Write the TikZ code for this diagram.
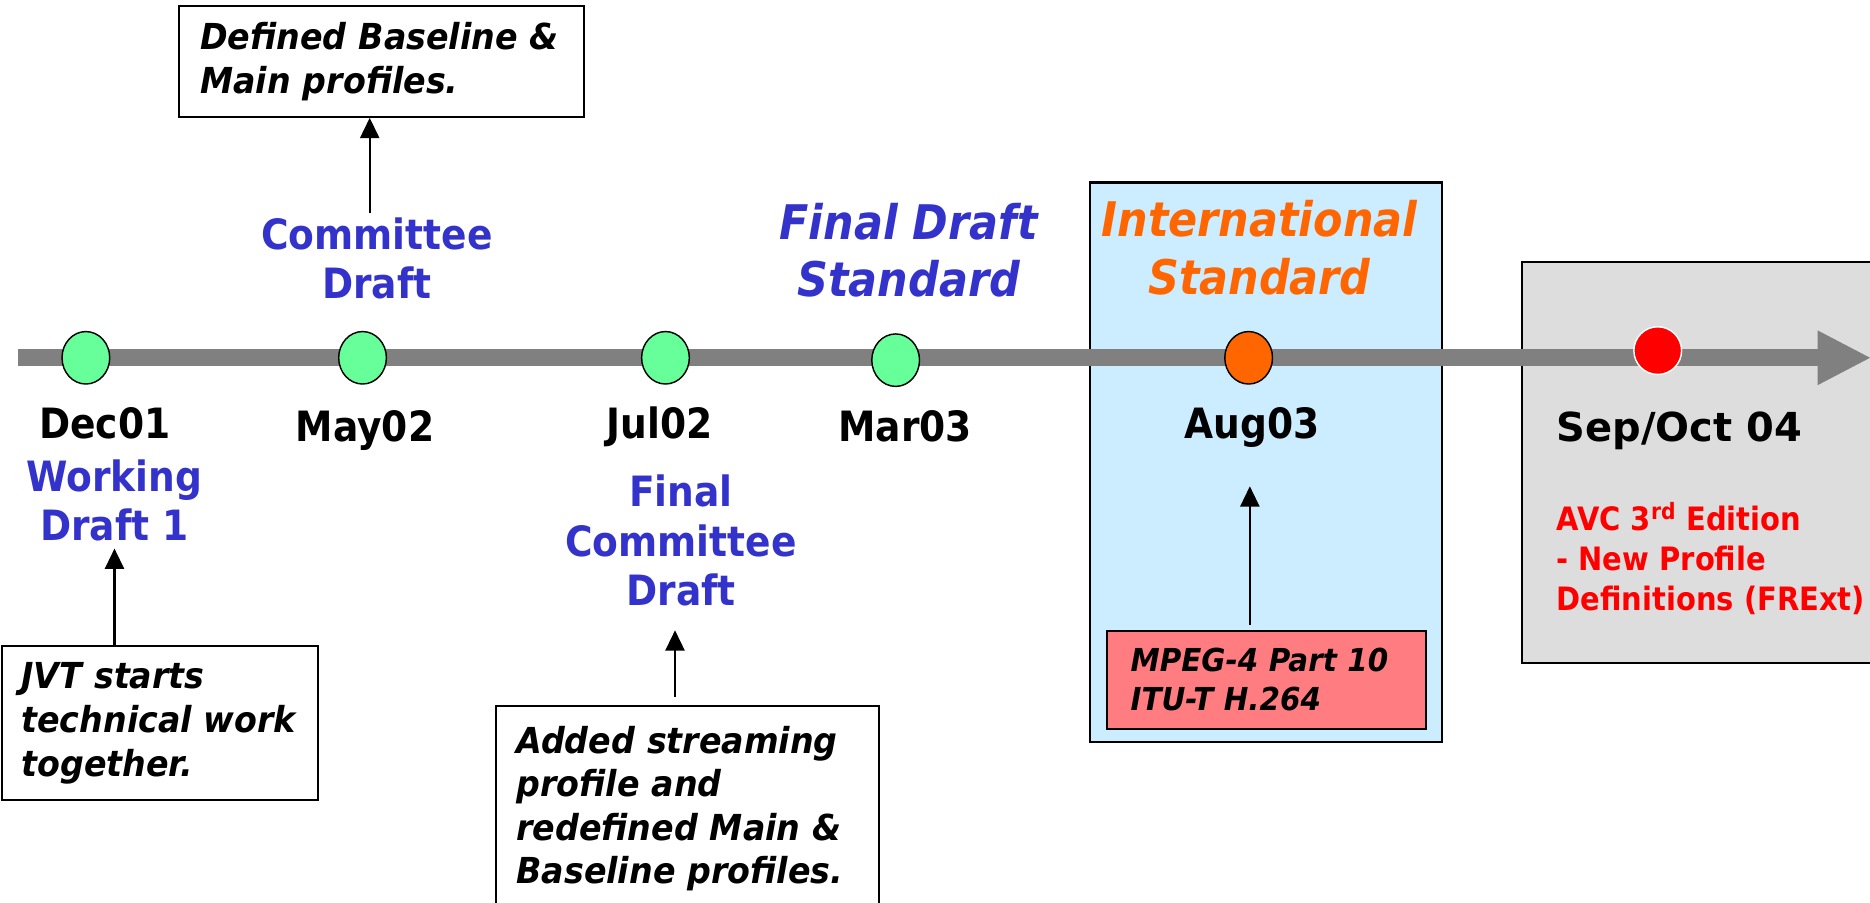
\documentclass[tikz,border=0pt]{standalone}
\usepackage{fontspec}
\setmainfont{DejaVu Sans}
\newfontfamily\slimfont[FakeStretch=0.9]{DejaVu Sans}
\newfontfamily\noteface[FakeStretch=0.93]{DejaVu Sans}
\usetikzlibrary{arrows.meta,shapes.geometric}

\definecolor{phaseblue}{RGB}{51,51,204}
\definecolor{isorange}{RGB}{255,102,0}
\definecolor{dotgreen}{RGB}{102,255,153}
\definecolor{bargrey}{RGB}{128,128,128}
\definecolor{isfill}{RGB}{204,236,255}
\definecolor{mpegfill}{RGB}{255,124,128}
\definecolor{frextfill}{RGB}{221,221,221}
\definecolor{frextred}{RGB}{255,0,0}

\tikzset{
  milestone/.style={ellipse, draw=black, line width=1.2pt, fill=dotgreen,
    minimum width=40pt, minimum height=44pt, inner sep=0pt},
  datelabel/.style={anchor=base, inner sep=0pt,
    font=\slimfont\bfseries\fontsize{35}{42}\selectfont},
  phaselabel/.style={anchor=north, inner sep=0pt, align=center, text=phaseblue,
    font=\slimfont\bfseries\fontsize{35}{41.5}\selectfont},
  stagelabel/.style={anchor=north, inner sep=0pt, align=center,
    font=\slimfont\bfseries\itshape\fontsize{40}{48}\selectfont},
  notebox/.style={draw=black, line width=1.6pt, align=left, inner ysep=0pt,
    font=\noteface\bfseries\itshape\fontsize{30}{36.5}\selectfont},
  uparrow/.style={line width=1.7pt, -{Triangle[length=17pt,width=16pt]}},
}

\begin{document}
\begin{tikzpicture}[x=1pt,y=-1pt]
\useasboundingbox (0,0) rectangle (1568,757);
\begin{scope}
\clip (0,0) rectangle (1568,757);

% background panels for the standard and the FRExt edition
\filldraw[fill=isfill, draw=black, line width=1.8pt] (914,153) rectangle (1209,622);
\filldraw[fill=frextfill, draw=black, line width=1.8pt] (1276,220) rectangle (1600,556);

% time axis
\draw[bargrey, line width=14pt] (15,300) -- (1526,300);
\fill[bargrey] (1524,277) -- (1568,300) -- (1524,323) -- cycle;

% milestones
\node[milestone] (m1) at (72,300) {};
\node[milestone] (m2) at (304,300) {};
\node[milestone] (m3) at (558,300) {};
\node[milestone] (m4) at (751,302) {};
\node[milestone, fill=isorange] (m5) at (1047,300) {};
\node[circle, fill=frextred, draw=white, line width=1.2pt, minimum size=40pt, inner sep=0pt] (m6) at (1390,294) {};

% dates
\node[datelabel] (d1) at (88,368) {Dec01};
\node[datelabel] (d2) at (306,370) {May02};
\node[datelabel] (d3) at (553,368) {Jul02};
\node[datelabel] (d4) at (759,370) {Mar03};
\node[datelabel] (d5) at (1050,368) {Aug03};
\node[datelabel, font=\bfseries\fontsize{33.5}{40}\selectfont] (d6) at (1408,370) {Sep/Oct 04};

% document stages
\node[phaselabel] (wd) at (96,385) {Working\\Draft 1};
\node[phaselabel] (cd) at (316,182) {Committee\\Draft};
\node[phaselabel] (fcd) at (571,398) {Final\\Committee\\Draft};
\node[stagelabel, text=phaseblue] (fds) at (762,170) {Final Draft\\Standard};
\node[stagelabel, text=isorange] (is) at (1056,168) {International\\Standard};

% notes
\node[notebox, text width=304pt, inner xsep=18pt, minimum height=93pt] (defbox) at (320,51.5)
  {Defined Baseline \&\\Main profiles.};
\node[notebox, text width=233pt, inner xsep=16pt, minimum height=129pt] (jvtbox) at (134.5,606.5)
  {JVT starts\\technical~work\\together.};
\node[notebox, text width=287pt, inner xsep=17pt, minimum height=172pt] (addbox) at (576.5,678)
  {Added streaming\\profile and\\redefined Main \&\\Baseline profiles.};
\node[notebox, fill=mpegfill, text width=228pt, inner xsep=20pt, minimum height=82pt,
  font=\noteface\bfseries\itshape\fontsize{26.5}{33}\selectfont] (mpeg) at (1062,570)
  {MPEG-4 Part 10\\ITU-T H.264};

% FRExt description
\node[anchor=north west, inner sep=0pt, align=left, text=frextred,
  font=\slimfont\bfseries\fontsize{27}{33.5}\selectfont] (frext) at (1305,421)
  {AVC 3\textsuperscript{rd} Edition\\- New Profile\\Definitions (FRExt)};

% arrows from the notes to their stages
\draw[uparrow] ([xshift=-6pt,yshift=3pt]cd.north) -- ([xshift=-6pt]cd.north |- defbox.south);
\draw[uparrow] (wd.south |- jvtbox.north) -- ([yshift=-6pt]wd.south);
\draw[uparrow] ([xshift=-5pt,yshift=7pt]fcd.south |- addbox.north) -- ([xshift=-5pt,yshift=-20pt]fcd.south);
\draw[uparrow] ([xshift=-2pt,yshift=4pt]mpeg.north -| d5.south) -- ([xshift=-2pt,yshift=-32pt]d5.south);
\end{scope}
\end{tikzpicture}
\end{document}
